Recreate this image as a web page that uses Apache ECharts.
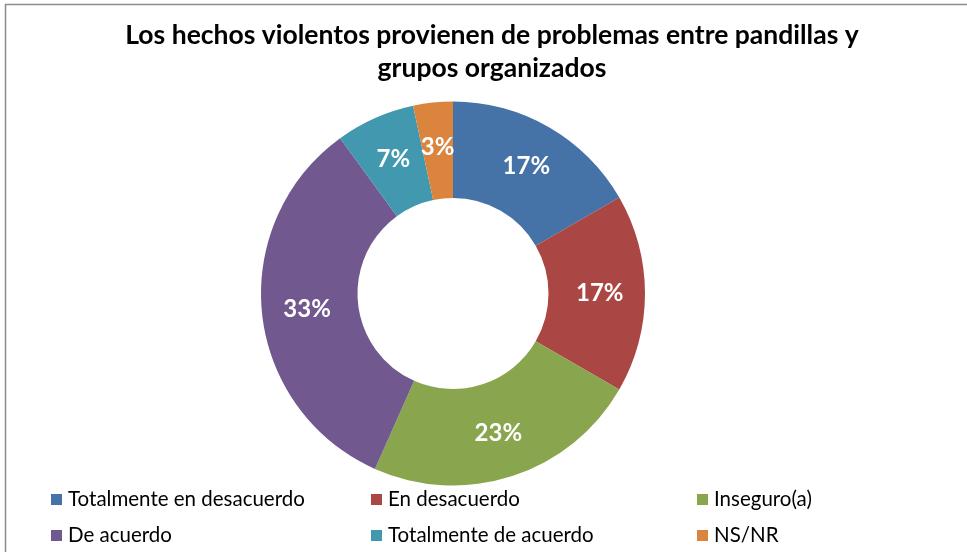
<!DOCTYPE html>
<html>
<head>
<meta charset="utf-8">
<script src="https://cdn.jsdelivr.net/npm/echarts@6/dist/echarts.min.js"></script>
<style>
html,body{margin:0;padding:0;background:#fff;}
#chart{width:967px;height:552px;}
</style>
</head>
<body>
<div id="chart"></div>
<script>
const titleText = 'Los hechos violentos provienen de problemas entre pandillas y\ngrupos organizados';
const categories = ['Totalmente en desacuerdo', 'En desacuerdo', 'Inseguro(a)', 'De acuerdo', 'Totalmente de acuerdo', 'NS/NR'];
const counts = [5, 5, 7, 10, 2, 1];
const colors = ['#4572A7', '#AA4643', '#89A54E', '#71588F', '#4198AF', '#DB843D'];
const legendColumns = [
  ['Totalmente en desacuerdo', 'De acuerdo'],
  ['En desacuerdo', 'Totalmente de acuerdo'],
  ['Inseguro(a)', 'NS/NR']
];
const legendLefts = [51, 371, 697];

const FONT = 'Lato';
const chart = echarts.init(document.getElementById('chart'));

const data = categories.map((c, i) => ({ name: c, value: counts[i], itemStyle: { color: colors[i] } }));

const legends = legendColumns.map((col, i) => ({
  orient: 'vertical',
  left: legendLefts[i],
  top: 489,
  data: col,
  icon: 'rect',
  itemWidth: 11,
  itemHeight: 11,
  itemGap: 15,
  padding: 0,
  selectedMode: false,
  textStyle: { fontFamily: FONT, fontSize: 20.5, color: '#000', lineHeight: 21, padding: [0, 0, 0, 1] }
}));

chart.setOption({
  backgroundColor: '#fff',
  animation: false,
  title: {
    text: titleText,
    left: 487,
    textAlign: 'center',
    top: 14,
    textStyle: { fontFamily: FONT, fontSize: 26.5, fontWeight: 'bold', color: '#000', lineHeight: 33 }
  },
  graphic: [{
    type: 'rect',
    shape: { x: 5.5, y: 4.5, width: 1200, height: 1200 },
    style: { fill: 'none', stroke: '#8c8c8c', lineWidth: 1.5 },
    silent: true
  }],
  legend: legends,
  series: [{
    type: 'pie',
    center: [453, 293.5],
    radius: [95.5, 192],
    startAngle: 90,
    clockwise: true,
    avoidLabelOverlap: false,
    label: {
      show: true,
      position: 'inside',
      formatter: p => Math.round(p.percent) + '%',
      color: '#fff',
      fontFamily: FONT,
      fontWeight: 'bold',
      fontSize: 24
    },
    labelLine: { show: false },
    itemStyle: { borderWidth: 0 },
    emphasis: { disabled: true },
    data: data
  }]
});
</script>
</body>
</html>
